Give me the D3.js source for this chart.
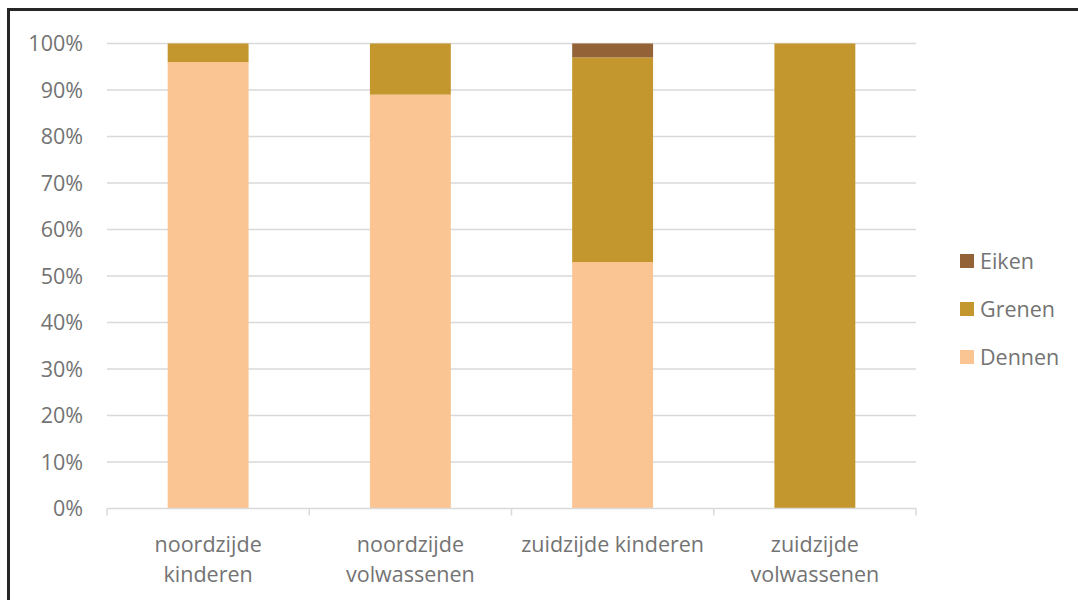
<!DOCTYPE html>
<html><head><meta charset="utf-8">
<script src="https://cdn.jsdelivr.net/npm/d3@7"></script>
<style>body{margin:0;background:#fff;} svg{display:block;font-family:"Open Sans",sans-serif;}</style>
</head><body>
<svg id="c" width="1078" height="600"></svg>
<script>
const categories = [["noordzijde","kinderen"],["noordzijde","volwassenen"],["zuidzijde kinderen"],["zuidzijde","volwassenen"]];
const seriesNames = ["Dennen","Grenen","Eiken"];
const dennen = [0.96, 0.89, 0.53, 0.00];
const grenen = [0.04, 0.11, 0.44, 1.00];
const eiken  = [0.00, 0.00, 0.03, 0.00];
const yTicks = [0,0.1,0.2,0.3,0.4,0.5,0.6,0.7,0.8,0.9,1.0];
const colors = {Eiken:"#936337", Grenen:"#C4962E", Dennen:"#FBC593"};

const svg = d3.select("#c");
const m = {left:107, right:916, top:43.5, bottom:508.5};
const keys = categories.map(c=>c.join(" "));
const x = d3.scaleBand().domain(keys).range([m.left,m.right]).paddingInner(0.6).paddingOuter(0.3);
const xOuter = d3.scaleBand().domain(keys).range([m.left,m.right]);
const y = d3.scaleLinear().domain([0,1]).range([m.bottom,m.top]);
const fs = 21.5, txt = "#737373";

// border
svg.append("rect").attr("x",8.5).attr("y",9.5).attr("width",1100).attr("height",700)
  .attr("fill","none").attr("stroke","#262626").attr("stroke-width",3);

// gridlines
svg.append("g").selectAll("line").data(yTicks.filter(t=>t>0)).join("line")
  .attr("x1",m.left).attr("x2",m.right).attr("y1",d=>y(d)).attr("y2",d=>y(d))
  .attr("stroke","#d9d9d9").attr("stroke-width",1.5);

// y labels
svg.append("g").selectAll("text").data(yTicks).join("text")
  .attr("x",83).attr("y",d=>y(d)).attr("dy","0.35em").attr("text-anchor","end")
  .attr("fill",txt).attr("font-size",fs).text(d=>d3.format(".0%")(d));

// stacked bars
const rows = keys.map((k,i)=>({key:k, Dennen:dennen[i], Grenen:grenen[i], Eiken:eiken[i]}));
const stack = d3.stack().keys(seriesNames)(rows);
svg.append("g").selectAll("g").data(stack).join("g").attr("fill",d=>colors[d.key])
  .selectAll("rect").data(d=>d).join("rect")
  .attr("x",d=>x(d.data.key)).attr("width",x.bandwidth())
  .attr("y",d=>y(d[1])).attr("height",d=>Math.max(0,y(d[0])-y(d[1])));

// x axis line + ticks
const ax = svg.append("g").attr("stroke","#d9d9d9").attr("stroke-width",1.5);
ax.append("line").attr("x1",m.left).attr("x2",m.right).attr("y1",m.bottom).attr("y2",m.bottom);
const tickXs = keys.map(k=>xOuter(k)).concat([m.right]);
ax.selectAll("line.t").data(tickXs).join("line").attr("class","t")
  .attr("x1",d=>d).attr("x2",d=>d).attr("y1",m.bottom).attr("y2",m.bottom+7);

// x labels
categories.forEach((lines,i)=>{
  const cx = xOuter(keys[i]) + xOuter.bandwidth()/2;
  const t = svg.append("text").attr("text-anchor","middle").attr("fill",txt).attr("font-size",fs);
  lines.forEach((s,j)=>t.append("tspan").attr("x",cx).attr("y",552+j*30).text(s));
});

// legend
const legendOrder = ["Eiken","Grenen","Dennen"];
const lg = svg.append("g");
legendOrder.forEach((n,i)=>{
  lg.append("rect").attr("x",960).attr("y",254+i*48).attr("width",14).attr("height",14).attr("fill",colors[n]);
  lg.append("text").attr("x",980).attr("y",261+i*48).attr("dy","0.35em").attr("fill",txt).attr("font-size",fs).text(n);
});
</script>
</body></html>
